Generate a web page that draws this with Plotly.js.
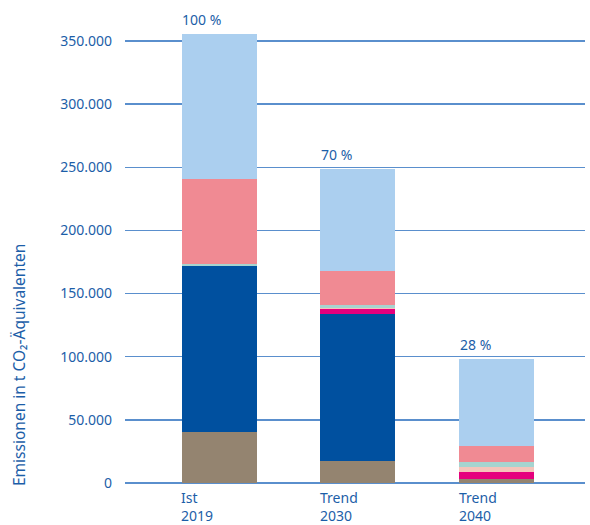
<!DOCTYPE html>
<html><head><meta charset="utf-8">
<script src="https://cdn.plot.ly/plotly-3.0.1.min.js"></script>
<style>html,body{margin:0;padding:0;background:#fff}</style>
</head><body><div id="chart" style="width:590px;height:525px"></div>
<script>
const categories = ["Ist<br>2019", "Trend<br>2030", "Trend<br>2040"];
const shares = ["100 %", "70 %", "28 %"];
const seriesNames = ["Sektor A", "Sektor B", "Sektor C", "Sektor D", "Sektor E", "Sektor F", "Sektor G"];
const brown     = [40400, 17400, 3200];
const darkBlue  = [131600, 116400, 0];
const magenta   = [0, 3600, 5500];
const lightPink = [0, 800, 4000];
const teal      = [1600, 2400, 4000];
const pink      = [67300, 26900, 12700];
const lightBlue = [114600, 81100, 68800];
const colors = ["#948470", "#00509f", "#e5007d", "#f5c4ba", "#a6d4d0", "#f08a93", "#abcfef"];
const series = [brown, darkBlue, magenta, lightPink, teal, pink, lightBlue];

const xs = [0, 1, 2];
const traces = series.map((vals, i) => ({
  type: "bar", x: xs, y: vals, name: seriesNames[i],
  marker: {color: colors[i], line: {width: 0}},
  width: 0.54, hoverinfo: "skip"
}));

const totals = xs.map(j => series.reduce((s, arr) => s + arr[j], 0));
const textColor = "#1c5ea8";
const annotations = [];
xs.forEach(j => {
  annotations.push({x: j - 0.28, y: totals[j], xref: "x", yref: "y", text: shares[j],
    showarrow: false, xanchor: "left", yanchor: "bottom", yshift: 3,
    font: {family: "Noto Sans, sans-serif", size: 14, color: textColor}});
  annotations.push({x: j - 0.28, y: 0, xref: "x", yref: "y", text: categories[j],
    showarrow: false, xanchor: "left", yanchor: "top", yshift: -4, borderpad: 0, align: "left",
    font: {family: "Noto Sans, sans-serif", size: 14, color: textColor}});
});
annotations.push({x: 0, xref: "paper", xshift: -119, y: 0, yref: "y", yshift: -5,
  text: "Emissionen in t CO₂-Äquivalenten", textangle: -90, showarrow: false,
  xanchor: "left", yanchor: "bottom",
  font: {family: "Noto Sans, sans-serif", size: 15.5, color: textColor}});

const layout = {
  width: 590, height: 525, barmode: "stack", showlegend: false,
  separators: ",.",
  paper_bgcolor: "#fff", plot_bgcolor: "#fff",
  margin: {l: 125, r: 5, t: 22, b: 42},
  xaxis: {range: [-0.68, 2.64], showticklabels: false, showgrid: false, zeroline: false, showline: false, fixedrange: true},
  yaxis: {range: [0, 365000], tickvals: [0, 50000, 100000, 150000, 200000, 250000, 300000, 350000],
    tickformat: ",d", showgrid: true, gridcolor: "#5a8fcd", gridwidth: 1.3,
    zeroline: true, zerolinecolor: "#5a8fcd", zerolinewidth: 1.3, showline: false,
    ticklabelstandoff: 12,
    tickfont: {family: "Noto Sans, sans-serif", size: 14, color: textColor}},
  annotations: annotations
};
Plotly.newPlot("chart", traces, layout, {staticPlot: true, displayModeBar: false});
</script></body></html>
